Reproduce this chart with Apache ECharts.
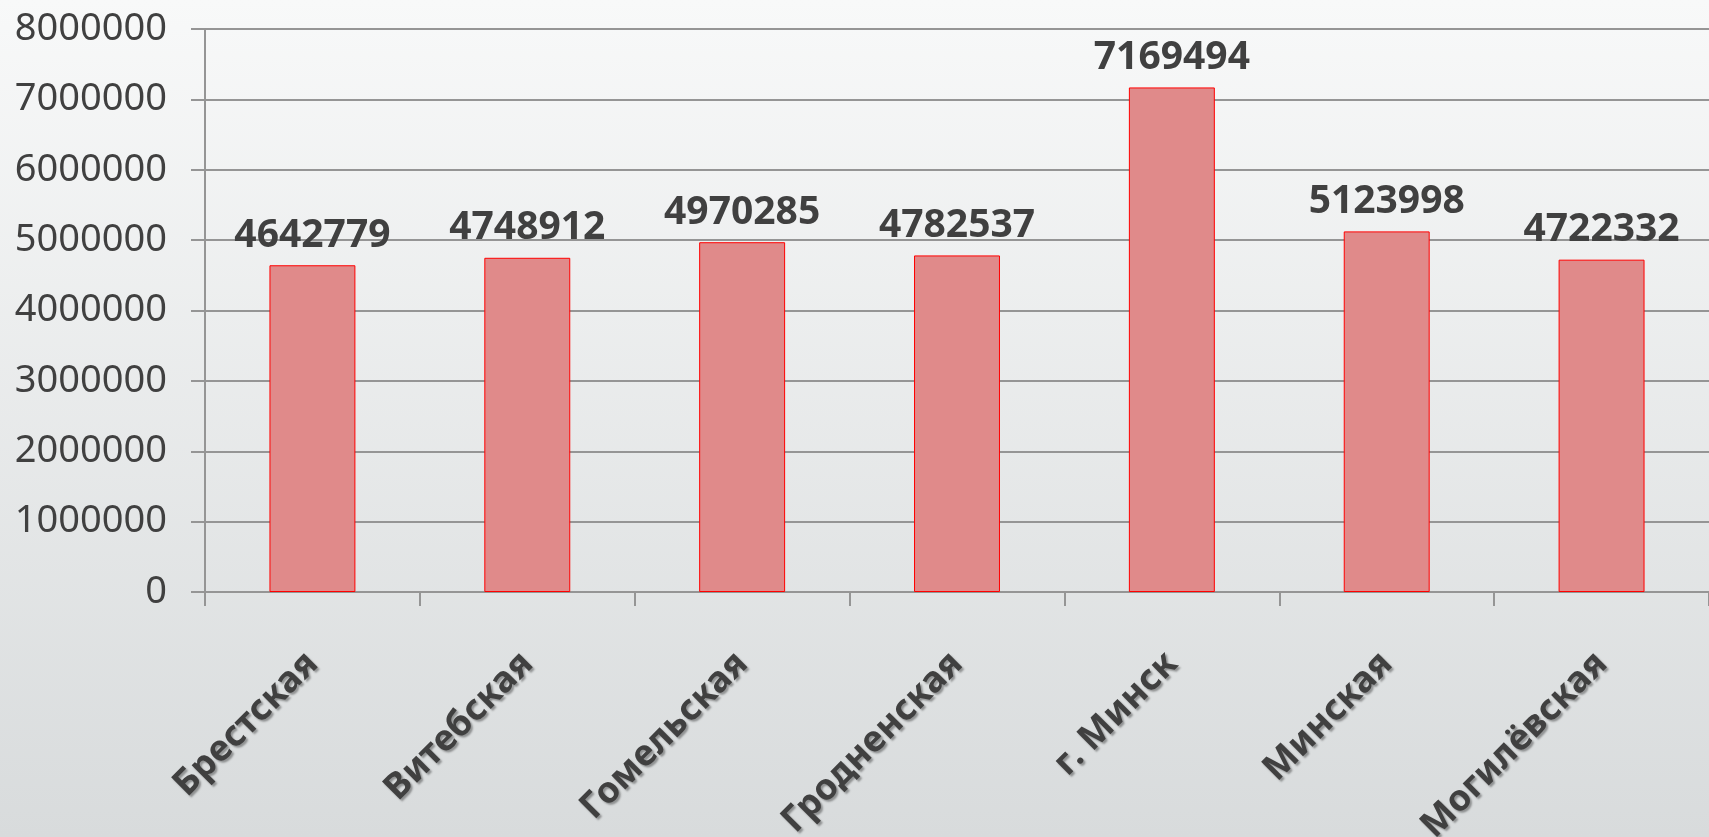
<!DOCTYPE html>
<html><head><meta charset="utf-8">
<script src="https://cdn.jsdelivr.net/npm/echarts@6/dist/echarts.min.js"></script>
<style>html,body{margin:0;padding:0;}#c{width:1709px;height:837px;}</style>
</head><body><div id="c"></div>
<script>
var categories = ['Брестская','Витебская','Гомельская','Гродненская','г. Минск','Минская','Могилёвская'];
var values = [4642779, 4748912, 4970285, 4782537, 7169494, 5123998, 4722332];
var yTicks = {min: 0, max: 8000000, interval: 1000000};

var chart = echarts.init(document.getElementById('c'));
chart.setOption({
  animation: false,
  backgroundColor: {type:'linear', x:0, y:0, x2:0, y2:1, colorStops:[{offset:0,color:'#f8f9f9'},{offset:1,color:'#d8dbdc'}]},
  grid: {left: 205, right: 0, top: 29, bottom: 245, containLabel: false, outerBoundsMode: 'none'},
  xAxis: {
    type: 'category', data: categories,
    axisLine: {lineStyle: {color: '#959595', width: 2}},
    axisTick: {show: true, length: 14, lineStyle: {color: '#959595', width: 2}},
    axisLabel: {rotate: 45, margin: 66, interval: 0, color: '#404040', fontFamily: 'Noto Sans', fontWeight: 'bold', fontSize: 36,
      textShadowColor: 'rgba(0,0,0,0.35)', textShadowBlur: 2, textShadowOffsetX: 2, textShadowOffsetY: 2}
  },
  yAxis: {
    type: 'value', min: yTicks.min, max: yTicks.max, interval: yTicks.interval,
    axisLine: {show: true, lineStyle: {color: '#959595', width: 2}},
    axisTick: {show: true, length: 14, lineStyle: {color: '#959595', width: 2}},
    splitLine: {lineStyle: {color: '#959595', width: 2}},
    axisLabel: {margin: 38, color: '#404040', fontFamily: 'Noto Sans', fontSize: 38, formatter: function (v) { return String(v); }}
  },
  series: [{
    type: 'bar', data: values, barWidth: '40%',
    itemStyle: {color: '#e08a8a', borderColor: '#ff0000', borderWidth: 1},
    label: {show: true, position: 'top', distance: 10, color: '#404040', fontFamily: 'Noto Sans', fontWeight: 'bold', fontSize: 39}
  }]
});
</script></body></html>
